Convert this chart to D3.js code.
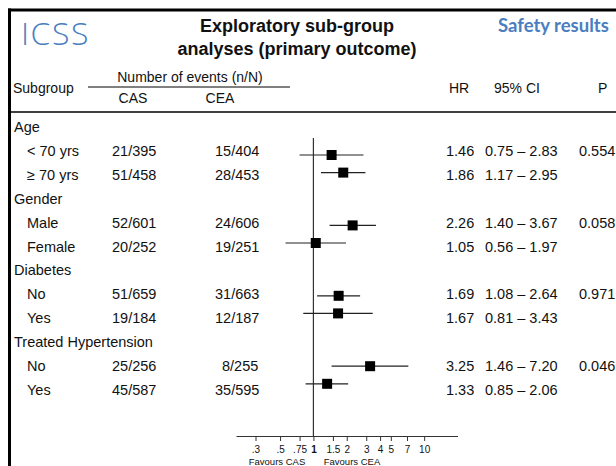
<!DOCTYPE html>
<html>
<head>
<meta charset="utf-8">
<script src="https://cdn.jsdelivr.net/npm/d3@7/dist/d3.min.js"></script>
<style>
  body { margin: 0; background: #fff; }
  text { font-family: "Liberation Sans", Arial, sans-serif; fill: #111; }
</style>
</head>
<body>
<div id="chart"></div>
<script>
"use strict";
// subgroup table
var groups = ["Age", "Gender", "Diabetes", "Treated Hypertension"];
var subgroups = [["< 70 yrs", "\u2265 70 yrs"], ["Male", "Female"], ["No", "Yes"], ["No", "Yes"]];
var casEvents = [["21/395", "51/458"], ["52/601", "20/252"], ["51/659", "19/184"], ["25/256", "45/587"]];
var ceaEvents = [["15/404", "28/453"], ["24/606", "19/251"], ["31/663", "12/187"], ["8/255", "35/595"]];
var hr = [[1.46, 1.86], [2.26, 1.05], [1.69, 1.67], [3.25, 1.33]];
var ciLow = [[0.75, 1.17], [1.40, 0.56], [1.08, 0.81], [1.46, 0.85]];
var ciHigh = [[2.83, 2.95], [3.67, 1.97], [2.64, 3.43], [7.20, 2.06]];
var pValues = ["0.554", "0.058", "0.971", "0.046"];
var tickValues = [0.3, 0.5, 0.75, 1, 1.5, 2, 3, 4, 5, 7, 10];
var tickLabels = [".3", ".5", ".75", "1", "1.5", "2", "3", "4", "5", "7", "10"];

var width = 616, height = 466;
var svg = d3.select("#chart").append("svg")
    .attr("width", width)
    .attr("height", height)
    .style("display", "block");

svg.append("rect").attr("width", width).attr("height", height).attr("fill", "#fff");

// frame
svg.append("line").attr("x1", 8).attr("x2", width).attr("y1", 10).attr("y2", 10)
    .attr("stroke", "#000").attr("stroke-width", 3);
svg.append("line").attr("x1", 9.5).attr("x2", 9.5).attr("y1", 8.5).attr("y2", height)
    .attr("stroke", "#000").attr("stroke-width", 3);
svg.append("line").attr("x1", 11).attr("x2", width).attr("y1", 112).attr("y2", 112)
    .attr("stroke", "#000").attr("stroke-width", 1.5);

// titles
svg.append("text").attr("x", 21).attr("y", 45).text("ICSS")
    .style("font-family", "'Open Sans', sans-serif").style("font-weight", 300)
    .style("font-size", "32px").style("letter-spacing", "1.5px").style("fill", "#4a7ebf");
var title = svg.append("text").attr("text-anchor", "middle")
    .style("font-weight", "bold").style("font-size", "18px");
title.append("tspan").attr("x", 297).attr("y", 32).text("Exploratory sub-group");
title.append("tspan").attr("x", 297).attr("y", 55).text("analyses (primary outcome)");
svg.append("text").attr("x", 498).attr("y", 32).text("Safety results")
    .style("font-family", "Lato, sans-serif").style("font-weight", "bold")
    .style("font-size", "18.5px").style("fill", "#4a7ebf");

// column headers
var hdr = svg.append("g").style("font-size", "14px");
hdr.append("text").attr("x", 13).attr("y", 93).text("Subgroup");
hdr.append("text").attr("x", 190).attr("y", 82).attr("text-anchor", "middle").text("Number of events (n/N)");
hdr.append("line").attr("x1", 88).attr("x2", 290).attr("y1", 87).attr("y2", 87)
    .attr("stroke", "#000").attr("stroke-width", 1);
hdr.append("text").attr("x", 133).attr("y", 103).attr("text-anchor", "middle").text("CAS");
hdr.append("text").attr("x", 220).attr("y", 103).attr("text-anchor", "middle").text("CEA");
hdr.append("text").attr("x", 459).attr("y", 93).attr("text-anchor", "middle").text("HR");
hdr.append("text").attr("x", 517).attr("y", 93).attr("text-anchor", "middle").text("95% CI");
hdr.append("text").attr("x", 598).attr("y", 93).text("P");

// text rows
var rowY = d3.scaleLinear().domain([0, 11]).range([132, 395]);
var rows = [];
groups.forEach(function (g, gi) {
    rows.push({ label: g, header: true });
    subgroups[gi].forEach(function (s, si) {
        rows.push({
            label: s, header: false, cas: casEvents[gi][si], cea: ceaEvents[gi][si],
            hr: hr[gi][si], lo: ciLow[gi][si], hi: ciHigh[gi][si],
            p: si === 0 ? pValues[gi] : "", plotIndex: gi * 4 + si
        });
    });
});

var body = svg.append("g").style("font-size", "14.5px");
var rowSel = body.selectAll("g.row").data(rows).enter().append("g")
    .attr("class", "row")
    .attr("transform", function (d, i) { return "translate(0," + rowY(i) + ")"; });
rowSel.append("text").attr("x", function (d) { return d.header ? 14 : 27; })
    .text(function (d) { return d.label; });
var items = rowSel.filter(function (d) { return !d.header; });
items.append("text").attr("x", 112).text(function (d) { return d.cas; });
items.append("text").attr("x", function (d) { return d.cea.length < 6 ? 222 : 215; })
    .text(function (d) { return d.cea; });
items.append("text").attr("x", 446).text(function (d) { return d3.format(".2f")(d.hr); });
items.append("text").attr("x", 485)
    .text(function (d) { return d3.format(".2f")(d.lo) + " \u2013 " + d3.format(".2f")(d.hi); });
items.append("text").attr("x", 579).text(function (d) { return d.p; });

// forest plot
var x = d3.scaleLog().domain([0.2, 20]).range([236, 457.5]);
var plotY = d3.scaleLinear().domain([0, 15]).range([155, 419]);
var axisY = 436;
var plot = svg.append("g");
plot.append("line").attr("x1", x(1)).attr("x2", x(1)).attr("y1", 138).attr("y2", axisY)
    .attr("stroke", "#333").attr("stroke-width", 1.2);

var est = plot.selectAll("g.est").data(rows.filter(function (d) { return !d.header; }))
    .enter().append("g").attr("class", "est");
est.append("line")
    .attr("x1", function (d) { return x(d.lo); })
    .attr("x2", function (d) { return x(d.hi); })
    .attr("y1", function (d) { return plotY(d.plotIndex); })
    .attr("y2", function (d) { return plotY(d.plotIndex); })
    .attr("stroke", "#222").attr("stroke-width", 1.2);
est.append("rect")
    .attr("x", function (d) { return x(d.hr) - 5; })
    .attr("y", function (d) { return plotY(d.plotIndex) - 5; })
    .attr("width", 10).attr("height", 10).attr("fill", "#000");

var axis = d3.axisBottom(x).tickValues(tickValues)
    .tickFormat(function (d, i) { return tickLabels[i]; })
    .tickSize(5).tickSizeOuter(0).tickPadding(5);
var axisG = plot.append("g").attr("transform", "translate(0," + axisY + ")").call(axis);
axisG.select(".domain").attr("stroke", "#333").attr("stroke-width", 1.2);
axisG.selectAll(".tick line").attr("stroke", "#333");
axisG.selectAll(".tick text")
    .style("font-family", "'Liberation Sans', Arial, sans-serif")
    .style("font-size", "10px").attr("fill", "#111")
    .style("font-weight", function (d) { return d === 1 ? "bold" : "normal"; });

plot.append("text").attr("x", 277).attr("y", 465).attr("text-anchor", "middle")
    .style("font-size", "9.5px").text("Favours CAS");
plot.append("text").attr("x", 352).attr("y", 465).attr("text-anchor", "middle")
    .style("font-size", "9.5px").text("Favours CEA");
</script>
</body>
</html>
